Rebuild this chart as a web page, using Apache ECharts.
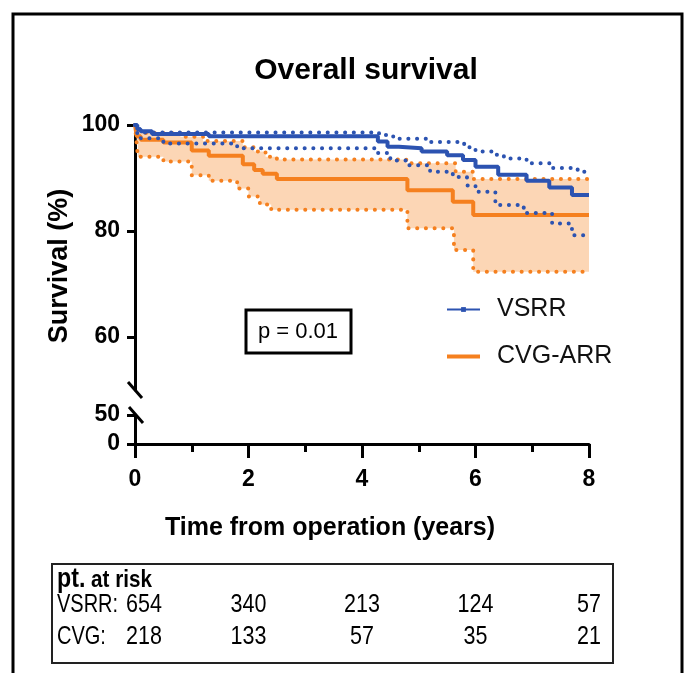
<!DOCTYPE html>
<html><head><meta charset="utf-8">
<script src="https://cdn.jsdelivr.net/npm/echarts@6/dist/echarts.min.js"></script>
<style>html,body{margin:0;padding:0;background:#fff}#c{width:684px;height:673px}</style>
</head><body><div id="c"></div>
<script>
// ---- data (time in years, survival %) ----
const xTicks = [0, 2, 4, 6, 8];
const yTicksUpper = [60, 80, 100];
const yTicksLower = [0, 50];
const vsrr = [[0,100],[0.04,99.2],[0.1,98.8],[0.3,98.3],[1.3,97.9],[4.28,96.9],[4.45,95.9],[4.65,95.6],[5.05,95.0],[5.5,94.3],[5.78,93.4],[6.0,92.1],[6.4,90.6],[6.9,89.5],[7.3,88.2],[7.7,86.8],[8,86.8]];
const vsrrUpper = [[0,100],[0.05,99.2],[0.15,98.6],[4.3,98.1],[4.55,97.4],[5.2,96.8],[5.8,95.8],[6.0,95.0],[6.3,94.4],[6.5,93.7],[6.9,92.8],[7.35,91.9],[7.8,91.2],[8,91.2]];
const vsrrLower = [[0,100],[0.03,98.5],[0.1,97.5],[0.5,96.5],[1.8,95.6],[4.25,94.7],[4.5,93.3],[4.8,92.4],[5.2,91.2],[5.6,90.2],[5.85,88.6],[6.0,87.4],[6.35,84.9],[6.85,83.4],[7.35,81.4],[7.7,79.2],[8,79.2]];
const cvg = [[0,100],[0.03,97.9],[0.1,97.2],[0.5,96.7],[1.0,95.2],[1.3,94.2],[1.9,92.6],[2.1,91.5],[2.25,90.8],[2.5,89.8],[4.8,87.7],[5.6,85.5],[5.96,83.0],[8,83.0]];
const cvgUpper = [[0,100],[0.03,99.0],[0.1,98.5],[0.8,97.8],[1.2,97.0],[1.9,95.8],[2.1,95.0],[2.3,94.0],[2.5,93.5],[4.78,92.8],[5.65,91.2],[5.96,89.8],[8,89.8]];
const cvgLower = [[0,100],[0.03,96.5],[0.05,94.0],[0.5,93.1],[1.0,90.5],[1.3,89.5],[1.8,88.0],[2.0,86.5],[2.2,85.0],[2.4,84.0],[4.8,80.5],[5.62,76.4],[5.96,72.3],[8,72.3]];
const riskTimes = [0, 2, 4, 6, 8];
const riskVSRR = [654, 340, 213, 124, 57];
const riskCVG = [218, 133, 57, 35, 21];
const seriesNames = ['VSRR', 'CVG-ARR'];
const pText = 'p = 0.01';

function stepPts(arr) {
  const out = [];
  for (let i = 0; i < arr.length; i++) {
    if (i > 0) out.push([arr[i][0], arr[i - 1][1]]);
    out.push(arr[i]);
  }
  return out;
}

const F = '"Liberation Sans", Arial, Helvetica, sans-serif';
const BLUE = '#2c53b1', ORANGE = '#f5801f', FILL = '#fcd6b5';
const AX = { color: '#000', width: 3 };
const dot = c => ({ color: c, width: 4, type: [0.1, 8.6], cap: 'round' });

const chart = echarts.init(document.getElementById('c'));
const yAxisCommon = {
  type: 'value',
  axisLine: { show: true, onZero: false, lineStyle: AX },
  splitLine: { show: false },
  axisLabel: { fontFamily: F, fontWeight: 'bold', fontSize: 23, color: '#000', margin: 15 }
};
chart.setOption({
  animation: false,
  grid: [
    { left: 135, top: 125, width: 454, height: 265 },
    { left: 135, top: 415, width: 454, height: 29 }
  ],
  xAxis: [
    { gridIndex: 0, type: 'value', min: 0, max: 8, show: false },
    { gridIndex: 1, type: 'value', min: 0, max: 8, interval: 2,
      axisLine: { onZero: false, lineStyle: AX },
      axisTick: { length: 14, lineStyle: AX },
      minorTick: { show: true, splitNumber: 2, length: 8, lineStyle: AX },
      splitLine: { show: false }, minorSplitLine: { show: false },
      axisLabel: { fontFamily: F, fontWeight: 'bold', fontSize: 23, color: '#000', margin: 24,
        customValues: xTicks } }
  ],
  yAxis: [
    Object.assign({}, yAxisCommon, { gridIndex: 0, min: 50, max: 100,
      axisTick: { show: true, length: 8, lineStyle: AX, customValues: yTicksUpper },
      axisLabel: Object.assign({}, yAxisCommon.axisLabel, { customValues: yTicksUpper }) }),
    Object.assign({}, yAxisCommon, { gridIndex: 1, min: 0, max: 50,
      axisTick: { show: true, length: 8, lineStyle: AX, customValues: yTicksLower },
      axisLabel: Object.assign({}, yAxisCommon.axisLabel, { customValues: yTicksLower }) })
  ],
  legend: {
    orient: 'vertical', left: 445, top: 297, padding: 0, itemWidth: 33, itemHeight: 6, itemGap: 22,
    textStyle: { fontFamily: F, fontSize: 25, color: '#111', padding: [0, 0, 0, 12] },
    data: [
      { name: seriesNames[0], lineStyle: { width: 2 } },
      { name: seriesNames[1], lineStyle: { width: 4 }, itemStyle: { opacity: 0 } }
    ]
  },
  series: [
    { type: 'custom', name: 'band', xAxisIndex: 0, yAxisIndex: 0, silent: true, z: 1,
      data: [[0, 100]],
      renderItem: (params, api) => {
        const up = stepPts(cvgUpper).map(p => api.coord(p));
        const lo = stepPts(cvgLower).map(p => api.coord(p)).reverse();
        return { type: 'polygon', shape: { points: up.concat(lo) }, style: { fill: FILL } };
      } },
    { type: 'line', name: 'cvgU', xAxisIndex: 0, yAxisIndex: 0, step: 'end', symbol: 'none', z: 3, data: cvgUpper, lineStyle: dot(ORANGE), silent: true },
    { type: 'line', name: 'cvgL', xAxisIndex: 0, yAxisIndex: 0, step: 'end', symbol: 'none', z: 3, data: cvgLower, lineStyle: dot(ORANGE), silent: true },
    { type: 'line', name: seriesNames[1], xAxisIndex: 0, yAxisIndex: 0, step: 'end', symbol: 'none', z: 4, data: cvg, color: ORANGE, lineStyle: { color: ORANGE, width: 4 } },
    { type: 'line', name: 'vsrrU', xAxisIndex: 0, yAxisIndex: 0, step: 'end', symbol: 'none', z: 5, data: vsrrUpper, lineStyle: dot(BLUE), silent: true },
    { type: 'line', name: 'vsrrL', xAxisIndex: 0, yAxisIndex: 0, step: 'end', symbol: 'none', z: 5, data: vsrrLower, lineStyle: dot(BLUE), silent: true },
    { type: 'line', name: seriesNames[0], xAxisIndex: 0, yAxisIndex: 0, step: 'end', symbol: 'rect', symbolSize: 5, showSymbol: false, z: 6, data: vsrr, color: BLUE, itemStyle: { color: BLUE }, lineStyle: { color: BLUE, width: 4 } }
  ]
});

// decorations & risk table
const px = t => chart.convertToPixel({ xAxisIndex: 1 }, t);
const slash = (cx, cy) => ({ type: 'line', shape: { x1: cx - 7, y1: cy - 8, x2: cx + 7, y2: cy + 8 }, style: { stroke: '#000', lineWidth: 3 }, z: 10 });
const x0 = px(0);
const yTop = chart.convertToPixel({ yAxisIndex: 0 }, 50);
const yBot = chart.convertToPixel({ yAxisIndex: 1 }, 50);
const tt = (txt, x, y, al, sx) => ({ type: 'text', x: x, y: y, scaleX: sx || 0.86,
  style: { text: txt, fontFamily: F, fontSize: 25, fill: '#000', align: al, verticalAlign: 'middle' } });
const g = [
  { type: 'rect', shape: { x: 13, y: 14, width: 669, height: 700 }, style: { fill: 'none', stroke: '#000', lineWidth: 3 }, silent: true },
  slash(x0, yTop), slash(x0 + 1, yBot),
  { type: 'text', x: 366, y: 71,
    style: { text: 'Overall survival', fontFamily: F, fontWeight: 'bold', fontSize: 30, fill: '#000', align: 'center', verticalAlign: 'middle' } },
  { type: 'text', x: 60, y: 266, rotation: Math.PI / 2,
    style: { text: 'Survival (%)', fontFamily: F, fontWeight: 'bold', fontSize: 27, fill: '#000', align: 'center', verticalAlign: 'middle' } },
  { type: 'text', x: 330, y: 528,
    style: { text: 'Time from operation (years)', fontFamily: F, fontWeight: 'bold', fontSize: 25, fill: '#000', align: 'center', verticalAlign: 'middle' } },
  { type: 'rect', shape: { x: 246, y: 310, width: 105, height: 43 }, style: { fill: '#fff', stroke: '#000', lineWidth: 3 } },
  { type: 'text', x: 298, y: 332, style: { text: pText, fontFamily: F, fontSize: 22, fill: '#000', align: 'center', verticalAlign: 'middle' } },
  { type: 'rect', shape: { x: 52, y: 564, width: 561, height: 99 }, style: { fill: '#fff', stroke: '#222', lineWidth: 2 } },
  { type: 'text', x: 57, y: 580, scaleX: 0.86,
    style: { text: '{a|pt.}{b| at risk}', verticalAlign: 'middle', align: 'left',
      rich: { a: { fontFamily: F, fontWeight: 'bold', fontSize: 27, fill: '#000' }, b: { fontFamily: F, fontWeight: 'bold', fontSize: 24, fill: '#000' } } } },
  tt('VSRR:', 57, 605, 'left', 0.8),
  tt('CVG:', 57, 637, 'left', 0.8)
];
riskTimes.forEach((t, i) => {
  const first = i === 0;
  const x = first ? px(t) - 9 : px(t);
  const al = first ? 'left' : 'center';
  g.push(tt(String(riskVSRR[i]), x, 605, al));
  g.push(tt(String(riskCVG[i]), x, 637, al));
});
chart.setOption({ graphic: g });
</script></body></html>
